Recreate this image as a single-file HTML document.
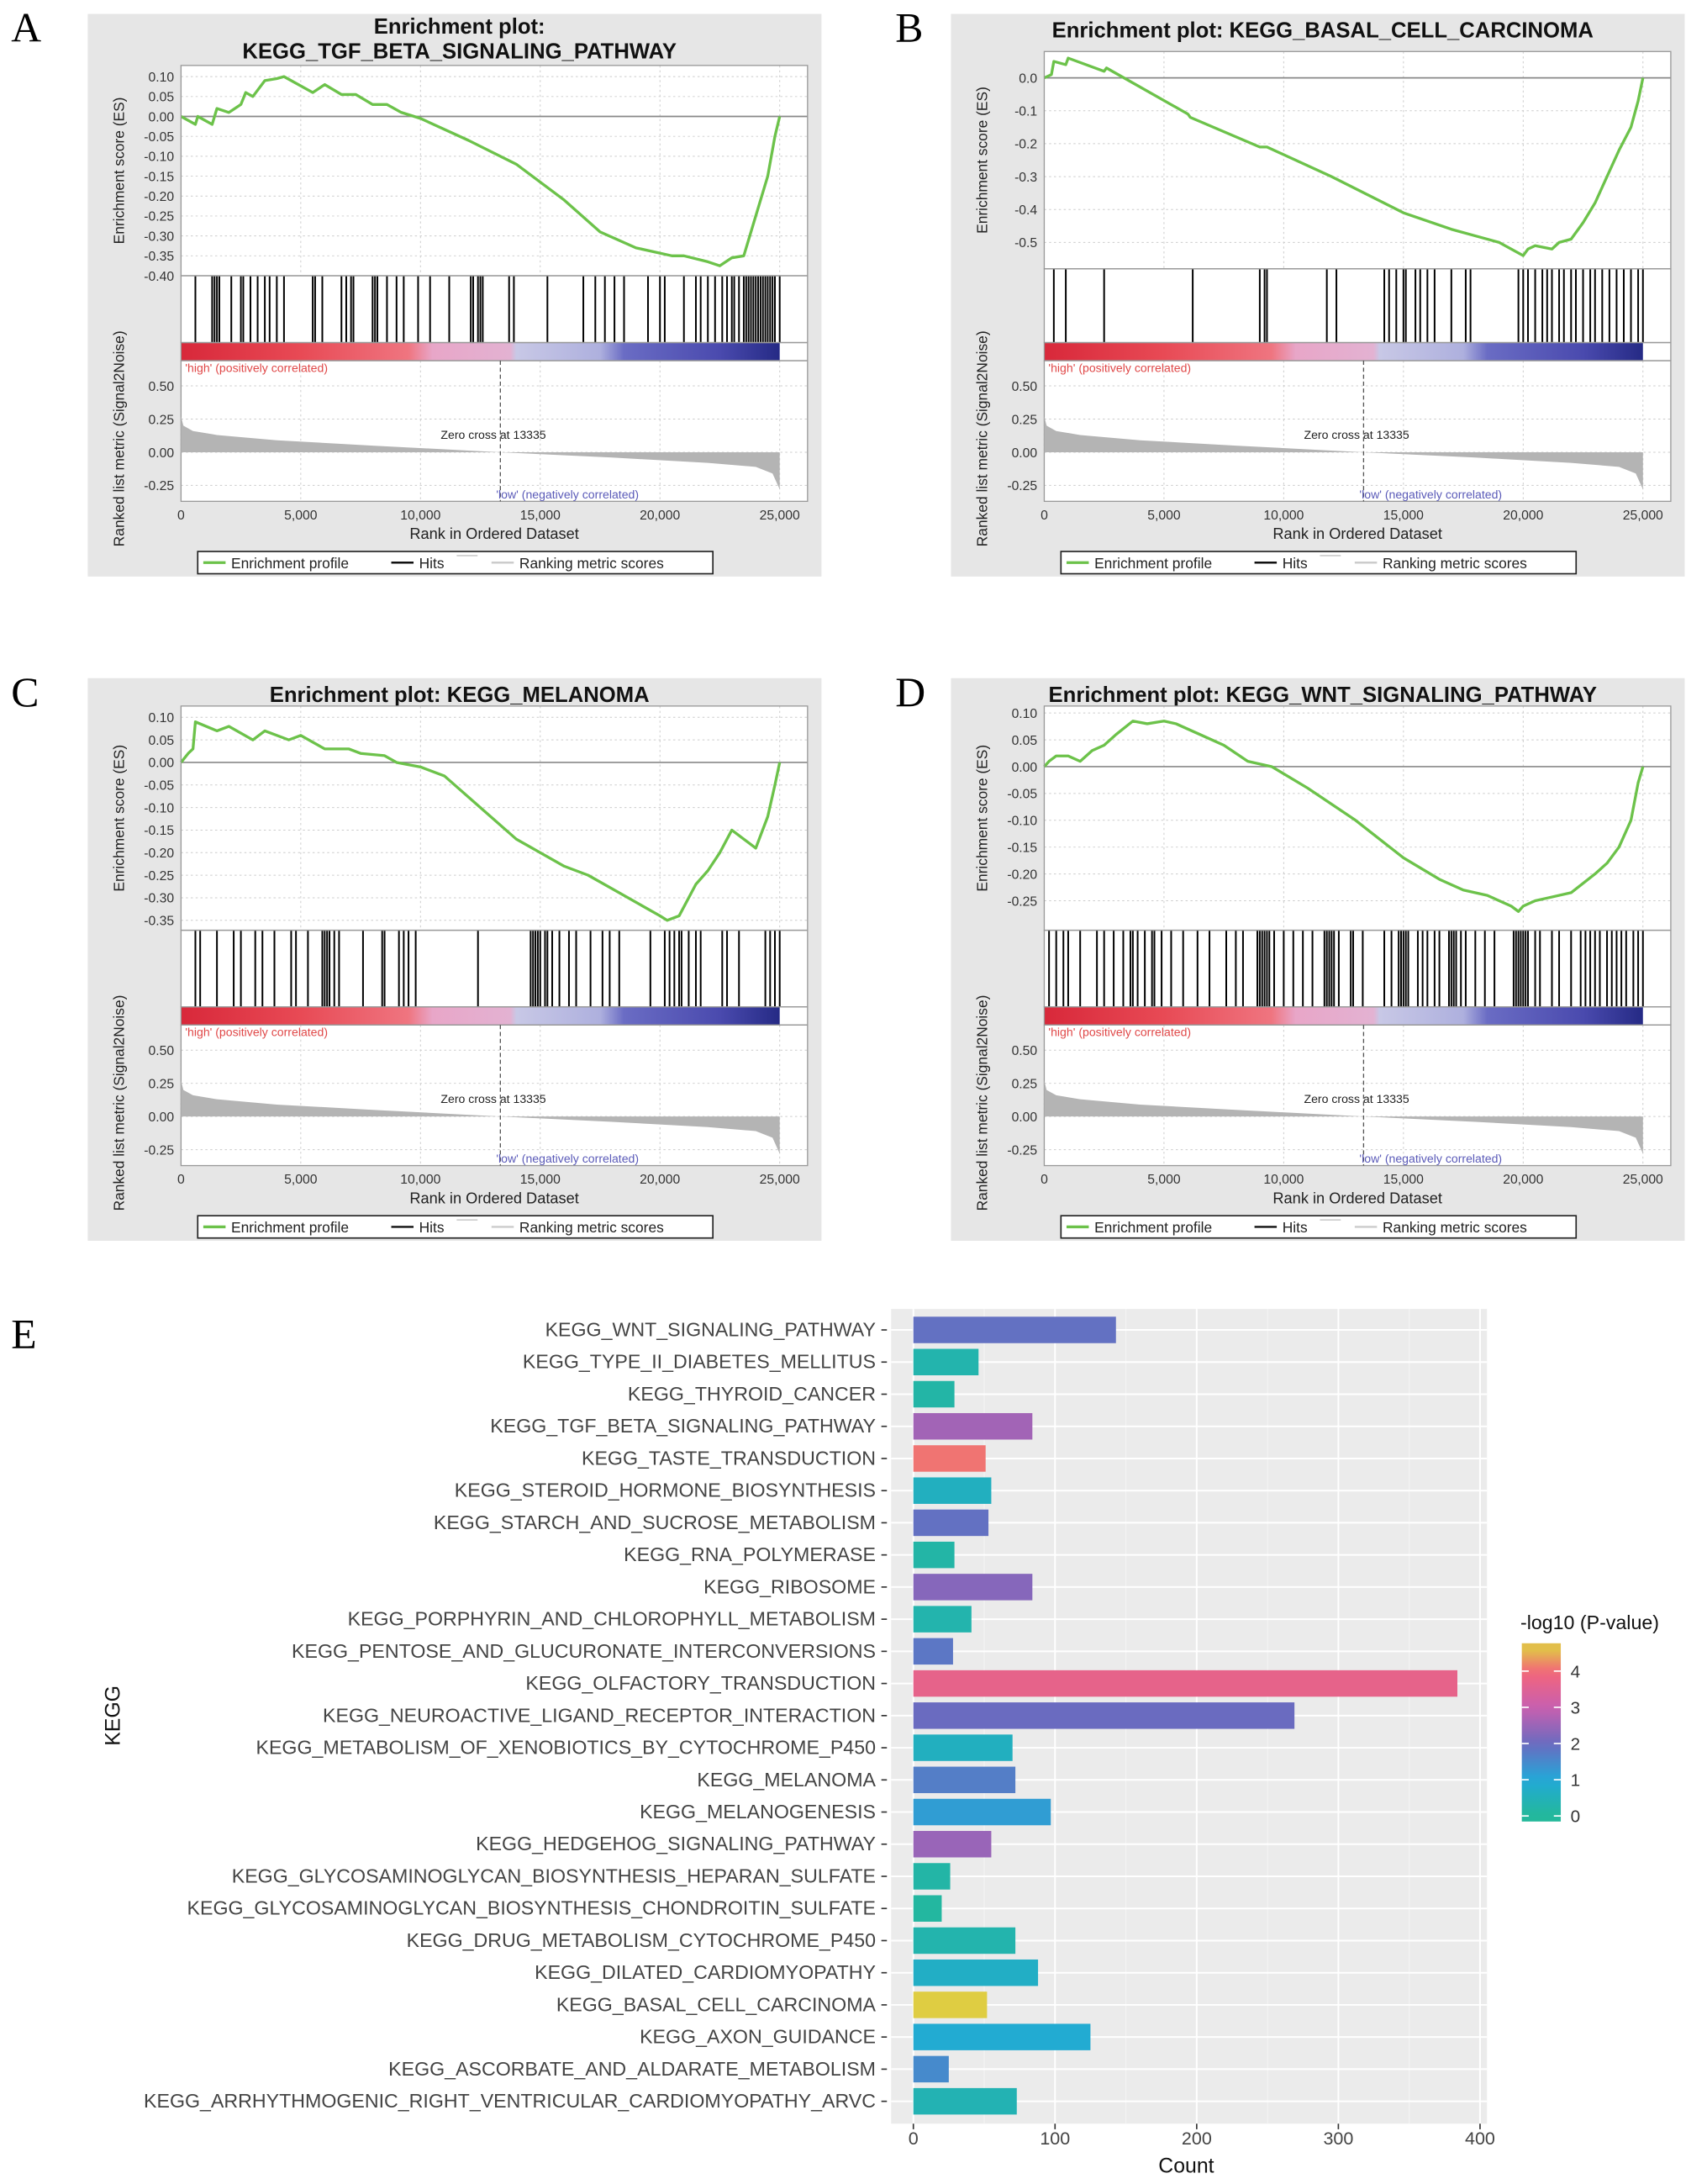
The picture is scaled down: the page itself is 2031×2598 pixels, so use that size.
<!DOCTYPE html>
<html><head><meta charset="utf-8"><style>
html,body{margin:0;padding:0;background:#fff;}
svg{display:block;font-family:"Liberation Sans",sans-serif;}
</style></head><body>
<svg id="fig" width="2031" height="2598" viewBox="0 0 1226 1568.3" xmlns="http://www.w3.org/2000/svg"></svg>
<script>
// ===== GSEA panel data (ranks in thousands) =====
const titlesA = ["Enrichment plot:", "KEGG_TGF_BETA_SIGNALING_PATHWAY"];
const titlesB = ["Enrichment plot: KEGG_BASAL_CELL_CARCINOMA"];
const titlesC = ["Enrichment plot: KEGG_MELANOMA"];
const titlesD = ["Enrichment plot: KEGG_WNT_SIGNALING_PATHWAY"];
const esRankA = [0,0.6,0.7,1.3,1.5,2,2.5,2.7,3,3.5,4,4.3,5.5,6,6.7,7.3,8,8.6,9.2,10,12,14,16,17.5,19,20.5,21,22,22.5,23,23.5,23.8,24.2,24.5,24.8,25];
const esValA  = [0,-0.02,0,-0.02,0.02,0.01,0.03,0.06,0.05,0.09,0.095,0.1,0.06,0.08,0.055,0.055,0.03,0.03,0.01,-0.005,-0.06,-0.12,-0.21,-0.29,-0.33,-0.35,-0.35,-0.365,-0.375,-0.355,-0.35,-0.29,-0.21,-0.15,-0.05,0];
const hitsA = [0.6,1.3,1.4,1.5,1.6,2.1,2.5,2.6,2.9,3.2,3.5,3.7,4.0,4.3,5.5,5.6,5.9,6.7,6.9,7.1,7.2,8.0,8.1,8.2,8.6,9.0,9.3,9.9,10.4,11.2,12.1,12.2,12.4,12.5,12.6,13.7,13.9,15.3,16.8,17.3,17.7,18.1,18.5,19.5,20.0,20.2,21.0,21.5,21.7,22.0,22.3,22.6,22.8,23.0,23.1,23.3,23.5,23.6,23.7,23.8,23.9,24.0,24.1,24.2,24.3,24.4,24.5,24.6,24.7,24.8,25.0];
const esRankB = [0,0.3,0.4,0.9,1,2.5,2.6,6,6.1,9,9.3,12,15,17,18,19,20,20.2,20.5,21.2,21.5,22,22.5,23,23.5,24,24.5,24.8,25];
const esValB  = [0,0.01,0.05,0.04,0.06,0.02,0.03,-0.11,-0.12,-0.21,-0.21,-0.3,-0.41,-0.46,-0.48,-0.5,-0.54,-0.52,-0.51,-0.52,-0.5,-0.49,-0.44,-0.38,-0.3,-0.22,-0.15,-0.07,0];
const hitsB = [0.4,0.9,2.5,6.2,9.0,9.2,9.3,11.8,12.2,14.2,14.4,14.7,15.0,15.1,15.5,15.7,16.0,16.3,17.0,17.6,17.8,19.8,20.0,20.2,20.5,20.8,21.0,21.2,21.5,21.7,22.0,22.2,22.5,22.8,23.0,23.3,23.6,23.9,24.2,24.5,24.8,25.0];
const esRankC = [0,0.3,0.5,0.6,1.5,2,3,3.5,4.5,5,6,7,7.5,8.5,9,10,11,12.5,14,15,16,17,18,19,20,20.3,20.8,21.5,22,22.5,23,23.5,24,24.5,24.8,25];
const esValC  = [0,0.02,0.03,0.09,0.07,0.08,0.05,0.07,0.05,0.06,0.03,0.03,0.02,0.015,0,-0.01,-0.03,-0.1,-0.17,-0.2,-0.23,-0.25,-0.28,-0.31,-0.34,-0.35,-0.34,-0.27,-0.24,-0.2,-0.15,-0.17,-0.19,-0.12,-0.05,0];
const hitsC = [0.6,0.8,1.5,2.2,2.5,3.1,3.4,3.9,4.6,4.8,5.3,5.9,6.0,6.1,6.2,6.4,6.6,7.6,8.4,8.5,9.1,9.3,9.5,9.8,12.4,14.6,14.7,14.8,14.9,15.0,15.2,15.3,15.5,15.8,16.2,16.5,17.1,17.6,17.9,18.3,19.6,20.2,20.4,20.6,20.8,20.9,21.2,21.5,21.7,22.6,22.8,23.3,24.4,24.6,24.8,25.0];
const esRankD = [0,0.2,0.5,1,1.5,2,2.5,3,3.7,4.3,5,5.5,6.5,7.5,8.5,9.5,11,13,15,16.5,17.5,18.5,19.5,19.8,20,20.5,21,22,23,23.5,24,24.5,24.8,25];
const esValD  = [0,0.01,0.02,0.02,0.01,0.03,0.04,0.06,0.085,0.08,0.085,0.08,0.06,0.04,0.01,0,-0.04,-0.1,-0.17,-0.21,-0.23,-0.24,-0.26,-0.27,-0.26,-0.25,-0.245,-0.235,-0.2,-0.18,-0.15,-0.1,-0.03,0];
const hitsD = [0.2,0.5,0.8,1.0,1.5,2.2,2.5,2.9,3.3,3.6,3.7,3.9,4.2,4.5,4.6,4.9,5.3,5.8,6.4,6.9,7.6,8.0,8.3,8.9,9.0,9.1,9.2,9.3,9.4,9.6,10.0,10.4,10.8,11.2,11.7,11.8,11.9,12.0,12.1,12.3,12.8,12.9,13.3,14.2,14.5,14.8,14.9,15.0,15.1,15.2,15.6,15.8,16.0,16.3,16.5,16.9,17.0,17.1,17.2,17.4,17.6,18.0,18.4,18.8,19.6,19.7,19.8,19.9,20.0,20.1,20.2,20.5,20.7,21.2,21.5,22.0,22.4,22.6,22.8,23.0,23.2,23.5,23.7,23.9,24.1,24.3,24.6,24.8,25.0];
const ticksA = [0.10,0.05,0.00,-0.05,-0.10,-0.15,-0.20,-0.25,-0.30,-0.35,-0.40];
const ticksB = [0.0,-0.1,-0.2,-0.3,-0.4,-0.5];
const ticksC = [0.10,0.05,0.00,-0.05,-0.10,-0.15,-0.20,-0.25,-0.30,-0.35];
const ticksD = [0.10,0.05,0.00,-0.05,-0.10,-0.15,-0.20,-0.25];
const metricRank = [0,0.1,0.5,1.5,4,8,13.335,18,22,24,24.7,25];
const metricVal = [0.27,0.2,0.16,0.13,0.09,0.05,0,-0.04,-0.08,-0.11,-0.16,-0.28];
const metricTicks = [0.50,0.25,0.00,-0.25];
const rankTicks = [0,5,10,15,20,25];

// ===== Bar chart data =====
const categories = ["KEGG_WNT_SIGNALING_PATHWAY","KEGG_TYPE_II_DIABETES_MELLITUS","KEGG_THYROID_CANCER","KEGG_TGF_BETA_SIGNALING_PATHWAY","KEGG_TASTE_TRANSDUCTION","KEGG_STEROID_HORMONE_BIOSYNTHESIS","KEGG_STARCH_AND_SUCROSE_METABOLISM","KEGG_RNA_POLYMERASE","KEGG_RIBOSOME","KEGG_PORPHYRIN_AND_CHLOROPHYLL_METABOLISM","KEGG_PENTOSE_AND_GLUCURONATE_INTERCONVERSIONS","KEGG_OLFACTORY_TRANSDUCTION","KEGG_NEUROACTIVE_LIGAND_RECEPTOR_INTERACTION","KEGG_METABOLISM_OF_XENOBIOTICS_BY_CYTOCHROME_P450","KEGG_MELANOMA","KEGG_MELANOGENESIS","KEGG_HEDGEHOG_SIGNALING_PATHWAY","KEGG_GLYCOSAMINOGLYCAN_BIOSYNTHESIS_HEPARAN_SULFATE","KEGG_GLYCOSAMINOGLYCAN_BIOSYNTHESIS_CHONDROITIN_SULFATE","KEGG_DRUG_METABOLISM_CYTOCHROME_P450","KEGG_DILATED_CARDIOMYOPATHY","KEGG_BASAL_CELL_CARCINOMA","KEGG_AXON_GUIDANCE","KEGG_ASCORBATE_AND_ALDARATE_METABOLISM","KEGG_ARRHYTHMOGENIC_RIGHT_VENTRICULAR_CARDIOMYOPATHY_ARVC"];
const counts = [143,46,29,84,51,55,53,29,84,41,28,384,269,70,72,97,55,26,20,72,88,52,125,25,73];
const logP = [1.9,0.3,0.2,2.6,4.1,0.6,1.9,0.2,2.3,0.3,1.8,3.7,2.0,0.6,1.7,1.2,2.5,0.2,0.1,0.3,0.7,4.7,0.9,1.5,0.4];
const countTicks = [0,100,200,300,400];
const legendTicks = [0,1,2,3,4];

const NS = "http://www.w3.org/2000/svg";
const svg = document.getElementById('fig');
function el(tag, attrs, parent, text){
  const e = document.createElementNS(NS, tag);
  for (const k in attrs) e.setAttribute(k, attrs[k]);
  if (text !== undefined) e.textContent = text;
  (parent || svg).appendChild(e);
  return e;
}
const defs = el('defs', {});
const gb = el('linearGradient', {id:'rankbar', x1:'0', x2:'1', y1:'0', y2:'0'}, defs);
[[0,'#d8283a'],[0.2,'#e84a55'],[0.38,'#ef7580'],[0.42,'#e8a6c8'],[0.55,'#e3b2d2'],[0.56,'#c8c8e6'],[0.7,'#aeb0de'],[0.74,'#6a6cc4'],[0.9,'#4a4aae'],[1,'#252a85']].forEach(s=>el('stop',{offset:s[0],'stop-color':s[1]},gb));
const stops = [[0,'#23b89a'],[1,'#22a9d8'],[2,'#6a6bc0'],[3,'#c85fb0'],[4,'#f3657a'],[4.8,'#dcdc3a']];
function hex(c){return [1,3,5].map(i=>parseInt(c.substr(i,2),16));}
function colorFor(v){
  for (let i=0;i<stops.length-1;i++){
    if (v<=stops[i+1][0]){
      const t=Math.max(0,(v-stops[i][0])/(stops[i+1][0]-stops[i][0]));
      const a=hex(stops[i][1]), b=hex(stops[i+1][1]);
      return 'rgb('+a.map((x,j)=>Math.round(x+(b[j]-x)*t)).join(',')+')';
    }
  }
  return stops[stops.length-1][1];
}
const lg = el('linearGradient', {id:'legendgrad', x1:'0', x2:'0', y1:'1', y2:'0'}, defs);
for (let v=-0.15; v<=4.8; v+=0.25){ el('stop',{offset:((v+0.15)/4.95).toFixed(3),'stop-color':colorFor(v)},lg); }

function panel(letter, ox, oy, titles, esRank, esVal, hits, ticks, esTop, esBot, yMax, yMin, id){
  const g = el('g', {transform:'translate('+ox+','+oy+')'});
  
  
  const lab = el('text', {x:(ox>600?643:8) - ox, y:20, 'font-family':'Liberation Serif,serif','font-size':30}, g, letter);
  
  
  el('rect', {x:0,y:0,width:527,height:404,fill:'#e6e6e6'}, g);
  titles.forEach((t,i)=>{
    const tt = el('text',{x:267,y:(titles.length>1?14:17)+i*18,'text-anchor':'middle','font-size':15.5,'font-weight':'bold',fill:'#111'},g,t);
    
    
  });
  const PL=67, PR=517, X25=497;
  const xs = r => PL + (X25-PL)*r/25;
  const ys = v => esTop + (yMax-v)/(yMax-yMin)*(esBot-esTop);
  const hitsBot = 236, barBot = 249, mBot = 350;
  const mMax = 0.69, mMin = -0.37;
  const ym = v => barBot + (mMax-v)/(mMax-mMin)*(mBot-barBot);
  el('rect',{x:PL,y:esTop,width:PR-PL,height:mBot-esTop,fill:'#fff'},g);
  rankTicks.forEach(r=>{
    el('line',{x1:xs(r),x2:xs(r),y1:esTop,y2:esBot,stroke:'#ccc','stroke-dasharray':'1.5,2','stroke-width':0.6},g);
    el('line',{x1:xs(r),x2:xs(r),y1:barBot,y2:mBot,stroke:'#ccc','stroke-dasharray':'1.5,2','stroke-width':0.6},g);
  });
  ticks.forEach(v=>{
    el('line',{x1:PL,x2:PR,y1:ys(v),y2:ys(v),stroke:'#ccc','stroke-dasharray':'1.5,2','stroke-width':0.6},g);
    const t = el('text',{x:PL-5,y:ys(v)+3.5,'text-anchor':'end','font-size':9.5,fill:'#333'},g,v.toFixed(ticks===ticksB?1:2));
    
    
  });
  el('line',{x1:PL,x2:PR,y1:ys(0),y2:ys(0),stroke:'#888','stroke-width':1},g);
  metricTicks.forEach(v=>{
    el('line',{x1:PL,x2:PR,y1:ym(v),y2:ym(v),stroke:'#ccc','stroke-dasharray':'1.5,2','stroke-width':0.6},g);
    const t = el('text',{x:PL-5,y:ym(v)+3.5,'text-anchor':'end','font-size':9.5,fill:'#333'},g,v.toFixed(2));
    
    
  });
  const pts = esRank.map((r,i)=>xs(r).toFixed(2)+','+ys(esVal[i]).toFixed(2)).join(' ');
  const curve = el('polyline',{points:pts,fill:'none',stroke:'#6cc24a','stroke-width':2,'stroke-linejoin':'round'},g);
  
  
  hits.forEach(r=>{
    const h = el('line',{x1:xs(r),x2:xs(r),y1:esBot,y2:hitsBot,stroke:'#000','stroke-width':1.2},g);
    
    
  });
  el('rect',{x:PL,y:hitsBot,width:X25-PL,height:barBot-hitsBot,fill:'url(#rankbar)'},g);
  [[esTop,esBot],[esBot,hitsBot],[hitsBot,barBot],[barBot,mBot]].forEach(p=>el('rect',{x:PL,y:p[0],width:PR-PL,height:p[1]-p[0],fill:'none',stroke:'#999','stroke-width':0.8},g));
  let mp = metricRank.map((r,i)=>xs(r).toFixed(2)+','+ym(metricVal[i]).toFixed(2));
  mp.push(xs(25).toFixed(2)+','+ym(0).toFixed(2)); mp.unshift(xs(0).toFixed(2)+','+ym(0).toFixed(2));
  const mf = el('polygon',{points:mp.join(' '),fill:'#b4b4b4'},g);
  
  
  el('line',{x1:xs(13.335),x2:xs(13.335),y1:barBot,y2:mBot,stroke:'#555','stroke-dasharray':'3,2','stroke-width':0.8},g);
  const zc = el('text',{x:xs(13.335)-5,y:305,'text-anchor':'middle','font-size':8.5,fill:'#222'},g,'Zero cross at 13335');
   
  const hi = el('text',{x:PL+3,y:barBot+8,'font-size':8.5,fill:'#e04848'},g,"'high' (positively correlated)");
   
  const lo = el('text',{x:xs(13.335)-3,y:348,'font-size':8.5,fill:'#5a5ab8'},g,"'low' (negatively correlated)");
   
  rankTicks.forEach(r=>{
    const t = el('text',{x:xs(r),y:363,'text-anchor':'middle','font-size':9.5,fill:'#333'},g, r===0?'0':(r+',000'));
     
  });
  const xt = el('text',{x:292,y:377,'text-anchor':'middle','font-size':11,fill:'#222'},g,'Rank in Ordered Dataset');
   
  const yt1 = el('text',{transform:'translate(26,'+((esTop+esBot)/2)+') rotate(-90)','text-anchor':'middle','font-size':10.5,fill:'#222'},g,'Enrichment score (ES)');
   
  const yt2 = el('text',{transform:'translate(26,305) rotate(-90)','text-anchor':'middle','font-size':10.5,fill:'#222'},g,'Ranked list metric (Signal2Noise)');
   
  const lgd = el('g',{},g);
   
  el('rect',{x:79,y:386,width:370,height:16,fill:'#fff',stroke:'#222','stroke-width':1},lgd);
  el('line',{x1:83,x2:99,y1:394,y2:394,stroke:'#6cc24a','stroke-width':2},lgd);
  el('text',{x:103,y:398,'font-size':10.5,fill:'#222'},lgd,'Enrichment profile');
  el('line',{x1:218,x2:234,y1:394,y2:394,stroke:'#111','stroke-width':1.5},lgd);
  el('text',{x:238,y:398,'font-size':10.5,fill:'#222'},lgd,'Hits');
  el('line',{x1:265,x2:280,y1:389,y2:389,stroke:'#ccc','stroke-width':1},lgd);
  el('line',{x1:290,x2:306,y1:394,y2:394,stroke:'#ccc','stroke-width':1.5},lgd);
  el('text',{x:310,y:398,'font-size':10.5,fill:'#222'},lgd,'Ranking metric scores');
}
panel('A', 63, 10, titlesA, esRankA, esValA, hitsA, ticksA, 37, 188, 0.128, -0.40, 'a');
panel('B', 683, 10, titlesB, esRankB, esValB, hitsB, ticksB, 27, 183, 0.08, -0.58, 'b');
panel('C', 63, 487, titlesC, esRankC, esValC, hitsC, ticksC, 20, 181, 0.125, -0.372, 'c');
panel('D', 683, 487, titlesD, esRankD, esValD, hitsD, ticksD, 20, 181, 0.113, -0.305, 'd');

// ===== Panel E =====
const E = el('g',{});
 
const eL = el('text',{x:8,y:968,'font-family':'Liberation Serif,serif','font-size':30},E,'E');
 
const X0 = 656, XPX = (1063-656)/400, ROW0 = 955, ROWH = 23.08;
const xc = v => X0 + v*XPX;
const yr = i => ROW0 + i*ROWH;
el('rect',{x:640,y:940,width:428,height:585,fill:'#ebebeb'},E);
[50,150,250,350].forEach(v=>el('line',{x1:xc(v),x2:xc(v),y1:940,y2:1525,stroke:'#f5f5f5','stroke-width':0.6},E));
countTicks.forEach(v=>el('line',{x1:xc(v),x2:xc(v),y1:940,y2:1525,stroke:'#fff','stroke-width':1.2},E));
categories.forEach((c,i)=>{
  el('line',{x1:640,x2:1068,y1:yr(i),y2:yr(i),stroke:'#fff','stroke-width':1.2},E);
  const b = el('rect',{x:xc(0),y:yr(i)-9.5,width:counts[i]*XPX,height:19,fill:colorFor(logP[i])},E);
  
  
  el('line',{x1:633,x2:637,y1:yr(i),y2:yr(i),stroke:'#333','stroke-width':1},E);
  const t = el('text',{x:629,y:yr(i)+4.5,'text-anchor':'end','font-size':14,fill:'#444'},E,c);
   
});
countTicks.forEach(v=>{
  el('line',{x1:xc(v),x2:xc(v),y1:1525,y2:1529,stroke:'#333'},E);
  const t = el('text',{x:xc(v),y:1540,'text-anchor':'middle','font-size':13,fill:'#444'},E,String(v));
   
});
const ct = el('text',{x:852,y:1560,'text-anchor':'middle','font-size':15,fill:'#111'},E,'Count');
 
const kt = el('text',{transform:'translate(86,1232) rotate(-90)','text-anchor':'middle','font-size':15,fill:'#111'},E,'KEGG');
 
const lgE = el('g',{},E);
 
el('text',{x:1092,y:1170,'font-size':14,fill:'#111'},lgE,'-log10 (P-value)');
el('rect',{x:1093,y:1180,width:28,height:128,fill:'url(#legendgrad)'},lgE);
legendTicks.forEach(v=>{
  const y = 1304 - v*26;
  el('line',{x1:1093,x2:1098,y1:y,y2:y,stroke:'#fff'},lgE);
  el('line',{x1:1116,x2:1121,y1:y,y2:y,stroke:'#fff'},lgE);
  el('text',{x:1128,y:y+4.5,'font-size':12.5,fill:'#333'},lgE,String(v));
});
</script>
</body></html>
